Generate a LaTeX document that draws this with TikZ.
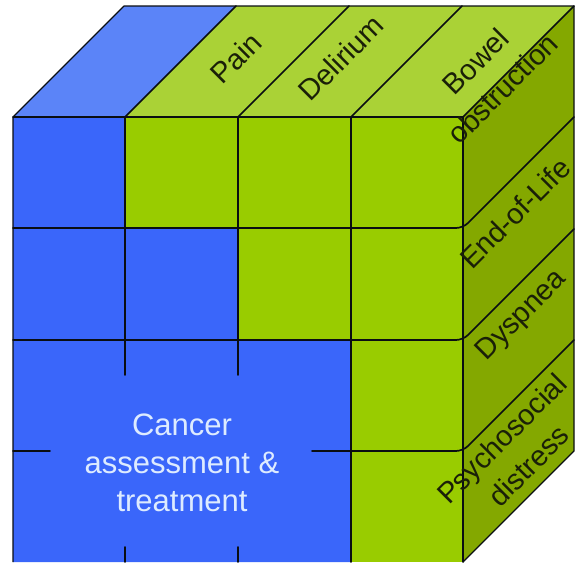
\documentclass[tikz,border=0pt]{standalone}
\usepackage{fontspec}
\setmainfont{Liberation Sans}
\definecolor{frontblue}{HTML}{3A66FA}
\definecolor{topblue}{HTML}{5B84F8}
\definecolor{frontgreen}{HTML}{99CC00}
\definecolor{topgreen}{HTML}{AAD236}
\definecolor{sidegreen}{HTML}{84A800}
\definecolor{gridline}{HTML}{0A0E12}
\definecolor{labeltext}{HTML}{1A2008}
\definecolor{cancertext}{HTML}{DDEBFF}
\tikzset{
  grid/.style={draw=gridline, line width=1.7pt, line cap=round},
  edge/.style={draw=gridline, line width=1.2pt, line join=round},
  toplabel/.style={text=labeltext, font=\fontsize{29}{36}\selectfont, rotate=45, align=center, inner sep=0pt},
  cancerlabel/.style={text=cancertext, font=\fontsize{31}{38}\selectfont, align=center, inner sep=0pt}
}
\begin{document}
\begin{tikzpicture}[x=1pt,y=-1pt]
\useasboundingbox (0,0) rectangle (577,562);
% corner points of the cube
\coordinate (fl) at (13,117);
\coordinate (fr) at (463,117);
\coordinate (br) at (463,562);
\coordinate (bl) at (13,562);
\coordinate (tbl) at (124,6);
\coordinate (tbr) at (574,6);
\coordinate (rbr) at (574,451);

% front face
\fill[frontgreen] (fl) -- (fr) -- (br) -- (bl) -- cycle;
\fill[frontblue] (13,117) -- (125,117) -- (125,228) -- (238,228) -- (238,340)
  -- (351,340) -- (351,562) -- (13,562) -- cycle;
% top face
\fill[topgreen] (125,117) -- (fr) -- (tbr) -- (236,6) -- cycle;
\fill[topblue] (fl) -- (125,117) -- (236,6) -- (tbl) -- cycle;
% right face
\fill[sidegreen] (fr) -- (tbr) -- (rbr) -- (br) -- cycle;

% vertical grid lines of the front face
\draw[grid] (125,117) -- (125,340) (125,340) -- (125,375) (125,547) -- (125,562);
\draw[grid] (238,117) -- (238,340) (238,340) -- (238,375) (238,547) -- (238,562);
\draw[grid] (351,117) -- (351,562);
% row lines, bending onto the right face
\draw[grid, rounded corners=7pt] (13,228) -- (463,228) -- (574,117);
\draw[grid, rounded corners=7pt] (13,340) -- (463,340) -- (574,229);
\draw[grid] (13,451) -- (50,451);
\draw[grid, rounded corners=7pt] (312,451) -- (463,451) -- (574,340);
% column lines on the top face
\draw[grid] (125,117) -- (236,6);
\draw[grid] (238,117) -- (349,6);
\draw[grid] (351,117) -- (462,6);
% outline
\draw[edge] (bl) -- (fl) -- (tbl) -- (tbr) -- (rbr) -- (br);
\draw[grid] (fl) -- (fr) -- (tbr);
\draw[grid] (fr) -- (br);

% labels
\node[toplabel] (pain) at (236,58) {Pain};
\node[toplabel] (delirium) at (341,58) {Delirium};
\node[toplabel, font=\fontsize{29}{38}\selectfont] (bowel) at (489,75) {Bowel\\obstruction};
\node[toplabel] (endoflife) at (515,213) {End-of-Life};
\node[toplabel] (dyspnea) at (522,316) {Dyspnea};
\node[toplabel, font=\fontsize{29}{38}\selectfont] (psycho) at (515,452) {Psychosocial\\distress};
\node[cancerlabel] (cancer) at (182,463) {Cancer\\assessment \&\\treatment};
\end{tikzpicture}
\end{document}
